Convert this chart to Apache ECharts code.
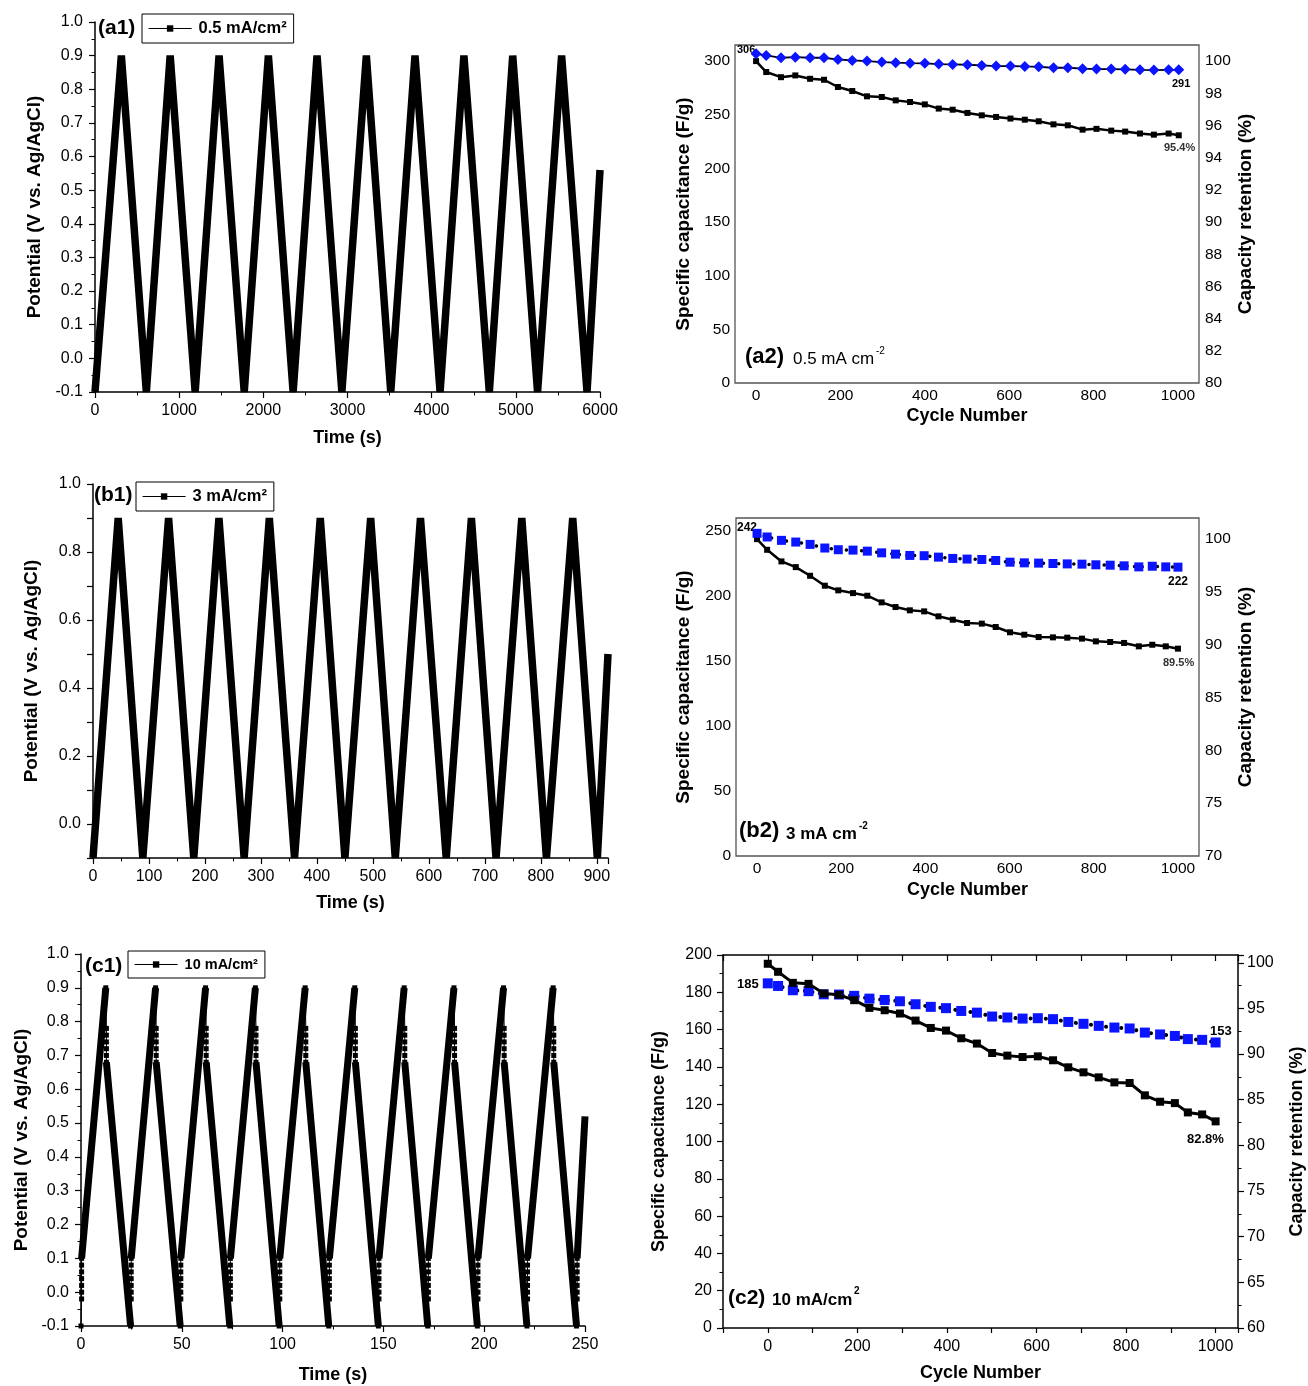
<!DOCTYPE html>
<html><head><meta charset="utf-8">
<script src="https://cdn.jsdelivr.net/npm/echarts@6.0.0/dist/echarts.min.js"></script>
<style>html,body{margin:0;padding:0;background:#fff}#c{width:1308px;height:1386px}</style>
</head><body><div id="c"></div>
<script>
// ---------------- DATA ----------------
const a1PeakTimes   = [313, 893, 1474, 2060, 2638, 3224, 3802, 4383, 4963, 5544];
const a1TroughTimes = [610, 1190, 1773, 2354, 2933, 3514, 4100, 4685, 5258, 5846];
const a1Start = [0, -0.1];
const a1End   = [6000, 0.56];
const b1PeakTimes   = [45, 135, 225, 315, 406, 496, 585, 676, 766, 857];
const b1TroughTimes = [89, 180, 270, 360, 450, 540, 631, 720, 810, 901];
const b1Start = [0, -0.1];
const b1End   = [920, 0.50];
const c1PeakTimes   = [12.3, 37.0, 61.8, 86.5, 111.2, 135.8, 160.3, 185.0, 209.6, 234.2];
const c1TroughTimes = [24.6, 49.2, 73.8, 98.3, 122.9, 147.5, 172.0, 196.6, 221.2, 245.8];
const c1End = [250, 0.52];
const c1DropLevels = [0.78, 0.76, 0.74, 0.72, 0.70, 0.68];
const c1JumpLevels = [-0.02, 0.0, 0.02, 0.04, 0.06, 0.08, 0.10];
const c1StepDt = 0.3;
const peakV = 0.9, troughV = -0.1;

const a2Cycles = [0, 24, 59, 93, 128, 161, 194, 228, 263, 298, 331, 365, 400, 433, 466, 501, 535, 569, 603, 637, 670, 705, 739, 774, 807, 842, 875, 910, 943, 978, 1002];
const a2Capacitance = [306.8, 305.3, 303.1, 303.7, 303.1, 303.1, 301.5, 300.6, 300.0, 299.1, 298.5, 298.1, 297.9, 297.2, 296.9, 296.6, 296.0, 295.4, 295.4, 295.0, 294.7, 293.8, 293.8, 292.9, 292.6, 292.6, 292.3, 291.9, 291.6, 291.9, 291.9];
const a2Retention = [100.0, 99.32, 99.0, 99.11, 98.90, 98.84, 98.39, 98.14, 97.81, 97.77, 97.56, 97.46, 97.31, 97.05, 96.98, 96.78, 96.63, 96.53, 96.43, 96.36, 96.26, 96.07, 96.01, 95.74, 95.79, 95.68, 95.62, 95.50, 95.43, 95.50, 95.39];
const b2Cycles = [0, 24, 58, 92, 126, 161, 193, 228, 262, 296, 329, 363, 397, 431, 465, 499, 534, 567, 601, 635, 669, 703, 737, 772, 805, 839, 872, 907, 939, 971, 1000];
const b2Capacitance = [248.2, 245.4, 242.8, 241.5, 239.7, 236.9, 235.6, 235.3, 234.5, 233.2, 232.2, 231.2, 231.0, 229.9, 228.9, 228.4, 228.1, 227.3, 226.0, 225.5, 225.3, 225.0, 224.7, 224.5, 224.0, 223.7, 223.2, 222.4, 222.9, 222.4, 222.2];
const b2Retention = [100, 98.99, 97.89, 97.35, 96.53, 95.59, 95.15, 94.89, 94.64, 94.01, 93.57, 93.26, 93.16, 92.69, 92.37, 92.06, 92.0, 91.68, 91.18, 90.95, 90.73, 90.70, 90.67, 90.58, 90.32, 90.26, 90.17, 89.85, 90.0, 89.85, 89.63];
const c2Cycles = [0, 23, 56, 91, 125, 159, 193, 227, 261, 295, 330, 364, 398, 432, 467, 501, 535, 569, 603, 637, 671, 705, 739, 774, 808, 842, 876, 909, 938, 970, 1000];
const c2Capacitance = [184.8, 183.4, 181.1, 180.6, 178.9, 178.8, 178.1, 176.6, 175.9, 175.2, 173.6, 172.2, 171.5, 170.0, 169.1, 167.0, 166.5, 165.9, 166.1, 165.6, 164.1, 163.1, 162.0, 161.1, 160.6, 158.4, 157.4, 156.6, 154.9, 154.5, 153.1];
const c2Retention = [99.89, 99.01, 97.80, 97.69, 96.63, 96.49, 95.9, 95.06, 94.8, 94.44, 93.67, 92.86, 92.57, 91.73, 91.15, 90.12, 89.83, 89.68, 89.75, 89.32, 88.55, 88.0, 87.45, 86.9, 86.83, 85.48, 84.78, 84.63, 83.61, 83.39, 82.63];

// -------------- build series data from the arrays --------------
function triangle(start, peaks, troughs, end) {
  const d = [start];
  for (let i = 0; i < peaks.length; i++) { d.push([peaks[i], peakV]); d.push([troughs[i], troughV]); }
  d.push(end);
  return d;
}
const zip = (xs, ys) => xs.map((x, i) => [x, ys[i]]);
const GAP = ['-', '-'];
const c1Thick = [];
const c1Steps = [];
let prevT = 0;
c1Steps.push([0, troughV]);
c1JumpLevels.forEach(v => c1Steps.push([c1StepDt, v]));
c1Steps.push(GAP);
for (let i = 0; i < c1PeakTimes.length; i++) {
  const p = c1PeakTimes[i], t = c1TroughTimes[i];
  c1Thick.push([prevT + c1StepDt, c1JumpLevels[c1JumpLevels.length - 1]], [p, peakV], GAP);
  c1Thick.push([p + c1StepDt, c1DropLevels[c1DropLevels.length - 1]], [t, troughV], GAP);
  c1Steps.push([p, peakV]);
  c1DropLevels.forEach(v => c1Steps.push([p + c1StepDt, v]));
  c1Steps.push(GAP);
  c1Steps.push([t, troughV]);
  c1JumpLevels.forEach(v => c1Steps.push([t + c1StepDt, v]));
  c1Steps.push(GAP);
  prevT = t;
}
c1Thick.push([prevT + c1StepDt, c1JumpLevels[c1JumpLevels.length - 1]], c1End);

// -------------- styles --------------
const FF = '"Liberation Sans", Arial, Helvetica, sans-serif';
const BLACK = '#000';
const BLUE = '#0a14ff';
const titleStyle = (size) => ({ fontFamily: FF, fontWeight: 'bold', fontSize: size, color: BLACK });
const fmt1 = v => (Math.abs(v) < 1e-9 ? 0 : v).toFixed(1);

function leftPanelX(gi, min, max, interval, formatter, gap) {
  return { type: 'value', gridIndex: gi, min, max, interval,
    name: 'Time (s)', nameLocation: 'middle', nameGap: gap, nameTextStyle: titleStyle(18),
    axisLine: { onZero: false, lineStyle: { color: BLACK, width: 1.5 } },
    axisTick: { show: true, inside: false, length: 6, lineStyle: { color: BLACK, width: 1.2 } },
    minorTick: { show: true, splitNumber: 2, length: 3.5, lineStyle: { color: BLACK, width: 1 } },
    axisLabel: { margin: 11, fontFamily: FF, fontSize: 16, color: BLACK, formatter },
    splitLine: { show: false }, minorSplitLine: { show: false } };
}
function leftPanelY(gi, formatter, minor, gap) {
  return { type: 'value', gridIndex: gi, min: -0.1, max: 1.0, interval: 0.1,
    name: 'Potential (V vs. Ag/AgCl)', nameLocation: 'middle', nameGap: gap, nameRotate: 90,
    nameTextStyle: titleStyle(19),
    axisLine: { onZero: false, lineStyle: { color: BLACK, width: 1.5 } },
    axisTick: { show: true, inside: false, length: 6, lineStyle: { color: BLACK, width: 1.2 } },
    minorTick: { show: minor, splitNumber: 2, length: 3.5, lineStyle: { color: BLACK, width: 1 } },
    axisLabel: { margin: 12, fontFamily: FF, fontSize: 16, color: BLACK, formatter },
    splitLine: { show: false }, minorSplitLine: { show: false } };
}
function cycleX(gi, min, max, interval, gap, ticks, labelSize, margin) {
  return { type: 'value', gridIndex: gi, min, max, interval,
    name: 'Cycle Number', nameLocation: 'middle', nameGap: gap, nameTextStyle: titleStyle(18),
    axisLine: { show: ticks, onZero: false, lineStyle: { color: BLACK, width: 1.5 } },
    axisTick: { show: ticks, inside: false, length: 5, lineStyle: { color: BLACK, width: 1.2 } },
    axisLabel: { margin, fontFamily: FF, fontSize: labelSize, color: BLACK,
      formatter: v => (v >= 0 && v <= 1000 && v % 200 === 0) ? String(v) : '' },
    splitLine: { show: false } };
}
function capY(gi, min, max, interval, gap, opts) {
  opts = opts || {};
  return { type: 'value', gridIndex: gi, min, max, interval, position: 'left',
    name: 'Specific capacitance (F/g)', nameLocation: 'middle', nameGap: gap, nameRotate: 90,
    nameTextStyle: titleStyle(opts.titleSize || 19),
    axisLine: { show: !!opts.ticks, onZero: false, lineStyle: { color: BLACK, width: 1.5 } },
    axisTick: { show: !!opts.ticks, inside: false, length: 6, lineStyle: { color: BLACK, width: 1.2 } },
    minorTick: { show: !!opts.ticks, splitNumber: 2, length: 3.5, lineStyle: { color: BLACK, width: 1 } },
    axisLabel: { margin: opts.margin || 5, fontFamily: FF, fontSize: opts.labelSize || 15.5, color: BLACK,
      formatter: v => (Math.abs(v % interval) < 1e-6) ? String(Math.round(v)) : '' },
    splitLine: { show: false }, minorSplitLine: { show: false } };
}
function retY(gi, min, max, interval, gap, opts) {
  opts = opts || {};
  return { type: 'value', gridIndex: gi, min, max, interval, position: 'right',
    name: 'Capacity retention (%)', nameLocation: 'middle', nameGap: gap, nameRotate: 90,
    nameTextStyle: titleStyle(opts.titleSize || 19),
    axisLine: { show: !!opts.ticks, onZero: false, lineStyle: { color: BLACK, width: 1.5 } },
    axisTick: { show: !!opts.ticks, inside: false, length: 6, lineStyle: { color: BLACK, width: 1.2 } },
    minorTick: { show: !!opts.ticks, splitNumber: 2, length: 3.5, lineStyle: { color: BLACK, width: 1 } },
    axisLabel: { margin: opts.margin || 6, fontFamily: FF, fontSize: opts.labelSize || 15.5, color: BLACK,
      formatter: v => (Math.abs((v - min) % interval) < 1e-6) ? String(Math.round(v)) : '' },
    splitLine: { show: false }, minorSplitLine: { show: false } };
}
function mkLegend(name, left, top, size) {
  return { data: [name], left, top, orient: 'horizontal',
    padding: [6, 7, 6, 6], itemWidth: 43, itemHeight: 8, itemGap: 4,
    borderColor: BLACK, borderWidth: 1, backgroundColor: '#fff', selectedMode: false,
    lineStyle: { width: 1.2, color: BLACK }, itemStyle: { color: BLACK },
    textStyle: { fontFamily: FF, fontWeight: 'bold', fontSize: size, color: BLACK, padding: [0, 0, 0, 2] } };
}
function gcdSeries(name, xi, data, width) {
  return { type: 'line', name, xAxisIndex: xi, yAxisIndex: xi, data,
    symbol: 'rect', showSymbol: false, connectNulls: false, clip: true,
    lineStyle: { color: BLACK, width, join: 'bevel' }, itemStyle: { color: BLACK }, z: 3 };
}
function txt(text, x, y, size, weight, color) {
  return { type: 'text', x, y, silent: true,
    style: { text, fontFamily: FF, fontSize: size, fontWeight: weight || 'bold', fill: color || BLACK,
      align: 'left', verticalAlign: 'middle', textAlign: 'left', textVerticalAlign: 'middle' } };
}

const option = {
  animation: false,
  backgroundColor: '#fff',
  grid: [
    { left: 95, top: 22, width: 505, height: 370 },
    { left: 93, top: 484, width: 515, height: 374 },
    { left: 81, top: 954, width: 504, height: 372 },
    { left: 735, top: 45, width: 464, height: 338, show: true, borderColor: '#555', borderWidth: 1.3 },
    { left: 736, top: 518, width: 463, height: 338, show: true, borderColor: '#555', borderWidth: 1.3 },
    { left: 723, top: 955, width: 515, height: 373 }
  ],
  xAxis: [
    leftPanelX(0, 0, 6000, 1000, v => String(v), 37),
    leftPanelX(1, 0, 920, 100, v => (v % 100 === 0 ? String(v) : ''), 36),
    leftPanelX(2, 0, 250, 50, v => String(v), 40),
    cycleX(3, -50, 1050, 50, 24, false, 15.5, 5),
    cycleX(4, -50, 1050, 50, 25, false, 15.5, 5),
    cycleX(5, -100, 1050, 100, 36, true, 16, 11),
    { type: 'value', gridIndex: 5, position: 'top', min: -100, max: 1050, interval: 100,
      axisLine: { show: true, onZero: false, lineStyle: { color: BLACK, width: 1.5 } },
      axisTick: { show: true, inside: true, length: 6, lineStyle: { color: BLACK, width: 1.2 } },
      axisLabel: { show: false }, splitLine: { show: false } }
  ],
  yAxis: [
    leftPanelY(0, fmt1, true, 51),
    leftPanelY(1, v => (Math.round(v * 10) % 2 === 0 ? fmt1(v) : ''), false, 52),
    leftPanelY(2, fmt1, true, 50),
    capY(3, 0, 315, 50, 42),
    retY(3, 80, 101, 2, 37),
    capY(4, 0, 260, 50, 43),
    retY(4, 70, 102, 5, 37),
    capY(5, 0, 200, 20, 55, { ticks: true, titleSize: 18, labelSize: 16, margin: 11 }),
    retY(5, 60, 100.85, 5, 50, { ticks: true, titleSize: 18, labelSize: 16, margin: 9 })
  ],
  legend: [
    mkLegend('0.5 mA/cm²', 142, 14, 16.5),
    mkLegend('3 mA/cm²', 136, 482, 16.5),
    mkLegend('10 mA/cm²', 128, 951, 14.5)
  ],
  series: [
    gcdSeries('0.5 mA/cm²', 0, triangle(a1Start, a1PeakTimes, a1TroughTimes, a1End), 7.5),
    gcdSeries('3 mA/cm²', 1, triangle(b1Start, b1PeakTimes, b1TroughTimes, b1End), 7.5),
    gcdSeries('10 mA/cm²', 2, c1Thick, 7),
    { type: 'line', xAxisIndex: 2, yAxisIndex: 2, data: c1Steps, connectNulls: false,
      symbol: 'rect', symbolSize: 5, showSymbol: true, showAllSymbol: true,
      lineStyle: { color: BLACK, width: 1 }, itemStyle: { color: BLACK }, z: 2 },
    { type: 'line', xAxisIndex: 3, yAxisIndex: 4, data: zip(a2Cycles, a2Retention),
      symbol: 'rect', symbolSize: 6, showAllSymbol: true,
      lineStyle: { color: BLACK, width: 2.5 }, itemStyle: { color: BLACK }, z: 3 },
    { type: 'line', xAxisIndex: 3, yAxisIndex: 3, data: zip(a2Cycles, a2Capacitance),
      symbol: 'diamond', symbolSize: 11, showAllSymbol: true,
      lineStyle: { color: BLACK, width: 1.8 }, itemStyle: { color: BLUE }, z: 4 },
    { type: 'line', xAxisIndex: 4, yAxisIndex: 6, data: zip(b2Cycles, b2Retention),
      symbol: 'rect', symbolSize: 6, showAllSymbol: true,
      lineStyle: { color: BLACK, width: 2.5 }, itemStyle: { color: BLACK }, z: 3 },
    { type: 'line', xAxisIndex: 4, yAxisIndex: 5, data: zip(b2Cycles, b2Capacitance),
      symbol: 'rect', symbolSize: 9, showAllSymbol: true,
      lineStyle: { color: BLACK, width: 3.5, type: [0.1, 7.5], cap: 'round' }, itemStyle: { color: BLUE }, z: 4 },
    { type: 'line', xAxisIndex: 5, yAxisIndex: 8, data: zip(c2Cycles, c2Retention),
      symbol: 'rect', symbolSize: 8, showAllSymbol: true,
      lineStyle: { color: BLACK, width: 3 }, itemStyle: { color: BLACK }, z: 4 },
    { type: 'line', xAxisIndex: 5, yAxisIndex: 7, data: zip(c2Cycles, c2Capacitance),
      symbol: 'rect', symbolSize: 10, showAllSymbol: true,
      lineStyle: { color: BLACK, width: 4, type: [0.1, 7.5], cap: 'round' }, itemStyle: { color: BLUE }, z: 3 }
  ],
  graphic: [
    txt('(a1)', 98, 28, 21),
    txt('(b1)', 94, 495, 21),
    txt('(c1)', 85, 966, 21),
    txt('306', 737, 50, 11),
    txt('291', 1172, 84, 11),
    txt('95.4%', 1164, 148, 11, 'bold', '#333'),
    txt('(a2)', 745, 357, 22),
    txt('0.5 mA cm', 793, 359, 17, 'normal'),
    txt('-2', 876, 351, 10, 'normal'),
    txt('242', 737, 528, 12),
    txt('222', 1168, 582, 12),
    txt('89.5%', 1163, 663, 11, 'bold', '#333'),
    txt('(b2)', 739, 831, 22),
    txt('3 mA cm', 786, 834, 17),
    txt('-2', 859, 826, 10),
    txt('185', 737, 984, 13),
    txt('153', 1210, 1031, 13),
    txt('82.8%', 1187, 1139, 13),
    txt('(c2)', 728, 1298, 21),
    txt('10 mA/cm', 772, 1300, 17),
    txt('2', 854, 1291, 10)
  ]
};

const chart = echarts.init(document.getElementById('c'), null, { renderer: 'canvas' });
chart.setOption(option);
</script>
</body></html>
